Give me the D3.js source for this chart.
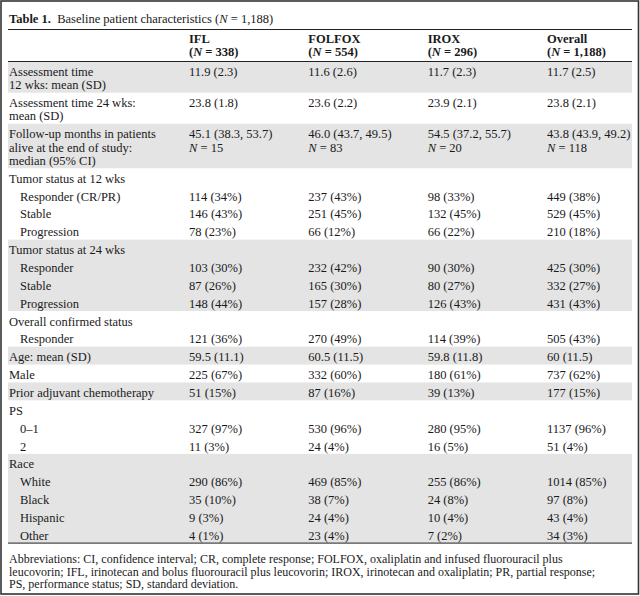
<!DOCTYPE html>
<html><head><meta charset="utf-8">
<script src="https://cdn.jsdelivr.net/npm/d3@7"></script>
<style>
html,body{margin:0;padding:0;background:#fff;}
svg{display:block;}
text{font-family:"Liberation Serif","Times New Roman",serif;fill:#1a1a1a;}
</style></head>
<body>
<script>
// ---- data ----
const titleBold = "Table 1.";
const titleText = ["Baseline patient characteristics (", "N", " = 1,188)"];
const columns = ["IFL", "FOLFOX", "IROX", "Overall"];
const columnN = ["338", "554", "296", "1,188"];

const rowLabels = [
  ["Assessment time", "12 wks: mean (SD)"],
  ["Assessment time 24 wks:", "mean (SD)"],
  ["Follow-up months in patients", "alive at the end of study:", "median (95% CI)"],
  ["Tumor status at 12 wks"], ["Responder (CR/PR)"], ["Stable"], ["Progression"],
  ["Tumor status at 24 wks"], ["Responder"], ["Stable"], ["Progression"],
  ["Overall confirmed status"], ["Responder"],
  ["Age: mean (SD)"],
  ["Male"],
  ["Prior adjuvant chemotherapy"],
  ["PS"], ["0\u20131"], ["2"],
  ["Race"], ["White"], ["Black"], ["Hispanic"], ["Other"]
];
const rowIndent = [0,0,0, 0,1,1,1, 0,1,1,1, 0,1, 0, 0, 0, 0,1,1, 0,1,1,1,1];
const rowBlock  = [0,1,2, 3,3,3,3, 4,4,4,4, 5,5, 6, 7, 8, 9,9,9, 10,10,10,10,10];

const IFL = ["11.9 (2.3)", "23.8 (1.8)", ["45.1 (38.3, 53.7)", "N = 15"],
  "", "114 (34%)", "146 (43%)", "78 (23%)",
  "", "103 (30%)", "87 (26%)", "148 (44%)",
  "", "121 (36%)", "59.5 (11.1)", "225 (67%)", "51 (15%)",
  "", "327 (97%)", "11 (3%)",
  "", "290 (86%)", "35 (10%)", "9 (3%)", "4 (1%)"];
const FOLFOX = ["11.6 (2.6)", "23.6 (2.2)", ["46.0 (43.7, 49.5)", "N = 83"],
  "", "237 (43%)", "251 (45%)", "66 (12%)",
  "", "232 (42%)", "165 (30%)", "157 (28%)",
  "", "270 (49%)", "60.5 (11.5)", "332 (60%)", "87 (16%)",
  "", "530 (96%)", "24 (4%)",
  "", "469 (85%)", "38 (7%)", "24 (4%)", "23 (4%)"];
const IROX = ["11.7 (2.3)", "23.9 (2.1)", ["54.5 (37.2, 55.7)", "N = 20"],
  "", "98 (33%)", "132 (45%)", "66 (22%)",
  "", "90 (30%)", "80 (27%)", "126 (43%)",
  "", "114 (39%)", "59.8 (11.8)", "180 (61%)", "39 (13%)",
  "", "280 (95%)", "16 (5%)",
  "", "255 (86%)", "24 (8%)", "10 (4%)", "7 (2%)"];
const Overall = ["11.7 (2.5)", "23.8 (2.1)", ["43.8 (43.9, 49.2)", "N = 118"],
  "", "449 (38%)", "529 (45%)", "210 (18%)",
  "", "425 (30%)", "332 (27%)", "431 (43%)",
  "", "505 (43%)", "60 (11.5)", "737 (62%)", "177 (15%)",
  "", "1137 (96%)", "51 (4%)",
  "", "1014 (85%)", "97 (8%)", "43 (4%)", "34 (3%)"];

const footnote = [
  "Abbreviations: CI, confidence interval; CR, complete response; FOLFOX, oxaliplatin and infused fluorouracil plus",
  "leucovorin; IFL, irinotecan and bolus fluorouracil plus leucovorin; IROX, irinotecan and oxaliplatin; PR, partial response;",
  "PS, performance status; SD, standard deviation."
];

// ---- layout ----
const W = 640, H = 596;
const FS = 12.5;
const left = 8, right = 632;
const titleLineY = 29.5, headLineY = 61.5;
const singleH = 17.85, extraLine = 13.3;
const shade = "#e4e4e4";
const series = [IFL, FOLFOX, IROX, Overall];

const svg = d3.select("body").append("svg").attr("width", W).attr("height", H);

const x = d3.scalePoint().domain(columns).range([189, 547]);

// row tops
const heights = rowLabels.map(l => singleH + (l.length - 1) * extraLine);
const tops = [];
let acc = 0;
heights.forEach((h, i) => { tops.push(acc); acc += h; });
const y = d3.scaleLinear().domain([0, acc]).range([headLineY, headLineY + acc]);
const tableBottom = y(acc);

// shaded blocks
const blocks = d3.groups(rowLabels.map((l, i) => i), i => rowBlock[i]);
svg.append("g").selectAll("rect").data(blocks.filter(b => b[0] % 2 === 0)).join("rect")
  .attr("x", left).attr("width", right - left)
  .attr("y", b => y(tops[b[1][0]]))
  .attr("height", b => y(tops[b[1][b[1].length - 1]] + heights[b[1][b[1].length - 1]]) - y(tops[b[1][0]]))
  .attr("fill", shade);

// rules
svg.append("g").selectAll("line").data([titleLineY, headLineY, tableBottom]).join("line")
  .attr("x1", left).attr("x2", right).attr("y1", d => d).attr("y2", d => d)
  .attr("stroke", "#222").attr("stroke-width", 1);

// border
svg.append("rect").attr("x", 1).attr("y", 1).attr("width", W - 2.5).attr("height", H - 3)
  .attr("fill", "none").attr("stroke", "#333").attr("stroke-width", 1.6);

// title
const t = svg.append("text").attr("x", 9).attr("y", 23).attr("font-size", FS);
t.append("tspan").attr("font-weight", "bold").text(titleBold + "\u00a0\u00a0");
t.append("tspan").text(titleText[0]);
t.append("tspan").attr("font-style", "italic").text(titleText[1]);
t.append("tspan").text(titleText[2]);

// header
const hg = svg.append("g");
columns.forEach((c, i) => {
  hg.append("text").attr("x", x(c)).attr("y", 42.5).attr("font-size", FS).attr("font-weight", "bold").text(c);
  const tt = hg.append("text").attr("x", x(c)).attr("y", 55.5).attr("font-size", FS).attr("font-weight", "bold");
  tt.append("tspan").text("(");
  tt.append("tspan").attr("font-style", "italic").text("N");
  tt.append("tspan").text(" = " + columnN[i] + ")");
});

function addLine(sel, str) {
  if (str.startsWith("N = ")) {
    sel.append("tspan").attr("font-style", "italic").text("N");
    sel.append("tspan").text(str.slice(1));
  } else sel.text(str);
}

const baseOff = 14.5;
// labels
const lg = svg.append("g");
rowLabels.forEach((lines, i) => {
  lines.forEach((ln, j) => {
    lg.append("text").attr("x", rowIndent[i] ? 20 : 9)
      .attr("y", y(tops[i]) + baseOff + j * extraLine).attr("font-size", FS).text(ln);
  });
});

// values
const vg = svg.append("g");
series.forEach((s, k) => {
  s.forEach((v, i) => {
    const lines = Array.isArray(v) ? v : [v];
    lines.forEach((ln, j) => {
      if (!ln) return;
      const tx = vg.append("text").attr("x", x(columns[k]))
        .attr("y", y(tops[i]) + baseOff + j * extraLine).attr("font-size", FS);
      addLine(tx, ln);
    });
  });
});

// footnote
svg.append("g").selectAll("text").data(footnote).join("text")
  .attr("x", 9).attr("y", (d, i) => tableBottom + 20 + i * 12.5)
  .attr("font-size", 12).text(d => d);
</script>
</body></html>
